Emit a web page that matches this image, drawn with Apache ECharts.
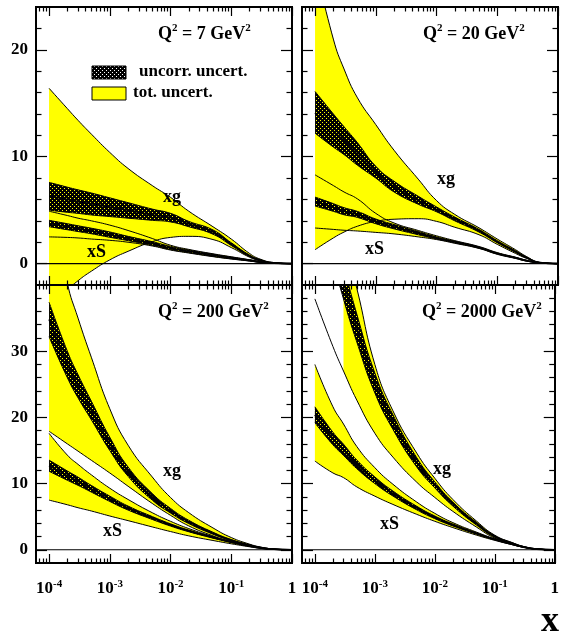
<!DOCTYPE html>
<html>
<head>
<meta charset="utf-8">
<script src="https://cdn.jsdelivr.net/npm/echarts@6/dist/echarts.min.js"></script>
<style>
  html, body { margin: 0; padding: 0; background: #fff; }
  #chart { width: 562px; height: 636px; }
</style>
</head>
<body>
<div id="chart"></div>
<script>
// x grid shared by every curve
const X = [1e-4, 2e-4, 3e-4, 5e-4, 1e-3, 2e-3, 5e-3, 1e-2, 2e-2, 5e-2, 0.1, 0.2, 0.3, 0.5, 1];

// Q2 = 7 GeV2
const q7_xg_hi  = [16.4, 14.5, 13.4, 12.1, 10.4, 8.9, 7.3, 6.2, 4.9, 3.45, 2.3, 0.95, 0.42, 0.1, 0];
const q7_xg_lo  = [-4.5, -2.5, -1.6, -0.7, 0.35, 1.15, 2.05, 2.45, 2.55, 2.25, 1.5, 0.6, 0.25, 0.05, 0];
const q7_xg_uhi = [7.6, 7.15, 6.9, 6.6, 6.15, 5.7, 5.1, 4.7, 3.95, 3.15, 1.95, 0.8, 0.36, 0.08, 0];
const q7_xg_ulo = [5.0, 4.8, 4.7, 4.55, 4.4, 4.25, 4.05, 3.9, 3.45, 2.75, 1.7, 0.65, 0.3, 0.06, 0];
const q7_xg_mid = [6.3, 6.0, 5.8, 5.6, 5.3, 5.0, 4.55, 4.3, 3.7, 2.95, 1.83, 0.72, 0.33, 0.07, 0];
const q7_xs_hi  = [4.9, 4.5, 4.25, 4.0, 3.6, 3.1, 2.35, 1.72, 1.33, 0.92, 0.64, 0.36, 0.19, 0.05, 0];
const q7_xs_lo  = [2.5, 2.45, 2.4, 2.3, 2.18, 2.0, 1.65, 1.27, 0.99, 0.65, 0.43, 0.24, 0.11, 0.03, 0];
const q7_xs_uhi = [4.05, 3.73, 3.54, 3.31, 2.96, 2.55, 2.05, 1.61, 1.27, 0.88, 0.61, 0.35, 0.18, 0.05, 0];
const q7_xs_ulo = [3.45, 3.17, 3.0, 2.79, 2.46, 2.15, 1.71, 1.31, 1.03, 0.68, 0.45, 0.25, 0.12, 0.03, 0];
const q7_xs_mid = [3.75, 3.45, 3.27, 3.05, 2.71, 2.35, 1.88, 1.46, 1.15, 0.78, 0.53, 0.3, 0.15, 0.04, 0];

// Q2 = 20 GeV2
const q20_xg_hi  = [28, 21, 18.2, 15.5, 13.0, 10.6, 7.9, 5.9, 4.6, 3.35, 2.3, 1.3, 0.68, 0.12, 0];
const q20_xg_lo  = [1.3, 2.4, 2.95, 3.5, 3.95, 4.15, 4.2, 3.95, 3.4, 2.7, 1.8, 0.95, 0.5, 0.08, 0];
const q20_xg_uhi = [16.1, 14.0, 12.8, 11.3, 9.1, 7.7, 6.3, 5.3, 4.35, 3.2, 2.15, 1.2, 0.62, 0.11, 0];
const q20_xg_ulo = [12.2, 10.9, 10.2, 9.2, 8.0, 6.7, 5.55, 4.85, 4.0, 2.95, 1.95, 1.05, 0.55, 0.09, 0];
const q20_xg_mid = [14.1, 12.4, 11.5, 10.2, 8.55, 7.2, 5.9, 5.07, 4.17, 3.07, 2.05, 1.12, 0.58, 0.1, 0];
const q20_xs_hi  = [8.3, 7.3, 6.7, 6.05, 4.7, 3.8, 3.1, 2.6, 2.15, 1.6, 1.03, 0.6, 0.32, 0.09, 0];
const q20_xs_lo  = [3.33, 3.2, 3.12, 3.05, 2.92, 2.78, 2.5, 2.25, 1.9, 1.42, 0.87, 0.48, 0.24, 0.07, 0];
const q20_xs_uhi = [6.22, 5.61, 5.23, 4.88, 4.17, 3.65, 3.0, 2.5, 2.1, 1.56, 1.0, 0.58, 0.31, 0.09, 0];
const q20_xs_ulo = [5.38, 4.89, 4.57, 4.32, 3.73, 3.25, 2.7, 2.3, 1.94, 1.44, 0.9, 0.5, 0.25, 0.07, 0];
const q20_xs_mid = [5.8, 5.25, 4.9, 4.6, 3.95, 3.45, 2.85, 2.4, 2.02, 1.5, 0.95, 0.54, 0.28, 0.08, 0];

// Q2 = 200 GeV2
const q200_xg_hi  = [55, 40.3, 35, 29, 21.3, 15.8, 11.0, 7.9, 5.6, 3.3, 1.85, 0.85, 0.42, 0.12, 0];
const q200_xg_lo  = [17.9, 16.0, 14.9, 13.5, 11.6, 9.6, 7.0, 5.2, 3.6, 2.1, 1.2, 0.58, 0.28, 0.06, 0];
const q200_xg_uhi = [37.4, 30.0, 26.45, 22.4, 17.0, 12.5, 8.5, 6.25, 4.45, 2.65, 1.55, 0.76, 0.39, 0.11, 0];
const q200_xg_ulo = [32.2, 26.0, 22.95, 19.6, 15.0, 11.1, 7.5, 5.55, 3.95, 2.35, 1.35, 0.64, 0.31, 0.07, 0];
const q200_xg_mid = [34.8, 28.0, 24.7, 21.0, 16.0, 11.8, 8.0, 5.9, 4.2, 2.5, 1.45, 0.7, 0.35, 0.09, 0];
const q200_xs_hi  = [17.6, 14.3, 12.9, 11.3, 9.3, 7.6, 5.6, 4.3, 3.2, 2.0, 1.25, 0.6, 0.31, 0.08, 0];
const q200_xs_lo  = [7.5, 6.8, 6.35, 5.85, 5.1, 4.4, 3.45, 2.75, 2.1, 1.4, 0.9, 0.45, 0.22, 0.05, 0];
const q200_xs_uhi = [13.55, 11.9, 10.97, 9.7, 8.1, 6.6, 5.02, 3.92, 2.98, 1.95, 1.22, 0.6, 0.31, 0.09, 0];
const q200_xs_ulo = [11.85, 10.5, 9.73, 8.7, 7.3, 6.0, 4.58, 3.58, 2.72, 1.75, 1.08, 0.5, 0.25, 0.05, 0];
const q200_xs_mid = [12.7, 11.2, 10.35, 9.2, 7.7, 6.3, 4.8, 3.75, 2.85, 1.85, 1.15, 0.55, 0.28, 0.07, 0];

// Q2 = 2000 GeV2
const q2000_xg_hi  = [70, 55, 47, 39.5, 28, 21, 14.6, 10.8, 7.6, 4.3, 2.2, 1.05, 0.5, 0.14, 0];
const q2000_xg_lo  = [37.9, 30.7, 27.0, 22.6, 17.6, 14.0, 10.2, 7.9, 5.8, 3.4, 1.75, 0.82, 0.4, 0.09, 0];
const q2000_xg_uhi = [66, 50, 43.1, 35.6, 26.7, 20.4, 13.9, 10.25, 7.2, 4.1, 2.12, 1.02, 0.49, 0.14, 0];
const q2000_xg_ulo = [58, 44, 37.9, 31.4, 23.7, 18.2, 12.5, 9.35, 6.6, 3.7, 1.88, 0.88, 0.41, 0.1, 0];
const q2000_xg_mid = [62, 47, 40.5, 33.5, 25.2, 19.3, 13.2, 9.8, 6.9, 3.9, 2.0, 0.95, 0.45, 0.12, 0];
const q2000_xs_hi  = [28.0, 21.6, 19.0, 15.6, 12.4, 9.9, 7.2, 5.5, 4.1, 2.65, 1.65, 0.85, 0.43, 0.11, 0];
const q2000_xs_lo  = [13.4, 11.6, 10.9, 9.5, 8.1, 6.85, 5.35, 4.3, 3.35, 2.2, 1.42, 0.74, 0.37, 0.09, 0];
const q2000_xs_uhi = [21.6, 17.75, 15.95, 13.55, 11.0, 8.88, 6.57, 5.1, 3.9, 2.55, 1.62, 0.84, 0.43, 0.11, 0];
const q2000_xs_ulo = [19.2, 15.85, 14.25, 12.25, 10.0, 8.12, 6.03, 4.7, 3.6, 2.35, 1.48, 0.76, 0.37, 0.09, 0];
const q2000_xs_mid = [20.4, 16.8, 15.1, 12.9, 10.5, 8.5, 6.3, 4.9, 3.75, 2.45, 1.55, 0.8, 0.4, 0.1, 0];

// y ranges and tick labels
const Y_TOP = [-2, 24];
const Y_BOTTOM = [-2, 40];
const Y_LABELS_TOP = [0, 10, 20];
const Y_LABELS_BOTTOM = [0, 10, 20, 30];
const X_DECADES = [-4, -3, -2, -1, 0];

const FONT = '"Liberation Serif", "Times New Roman", Times, serif';
const YELLOW = '#ffff00';
const LOG_MIN = -4.215;
const X_MIN = Math.pow(10, LOG_MIN);
const SMOOTH = 0.5;

// fine cross-hatch used for the uncorrelated uncertainty
function makeHatch() {
  const c = document.createElement('canvas');
  c.width = 4; c.height = 4;
  const g = c.getContext('2d');
  g.fillStyle = '#000';
  g.fillRect(0, 0, 4, 4);
  g.clearRect(0, 0, 1, 1);
  g.clearRect(2, 2, 1, 1);
  return c;
}
const HATCH = { image: makeHatch(), repeat: 'repeat' };

const PANELS = [
  { q: '7', y: Y_TOP, yl: Y_LABELS_TOP, box: { left: 36, top: 7 }, labelsX: false, labelsY: true, xgFrom: 0,
    xg: [q7_xg_hi, q7_xg_lo, q7_xg_uhi, q7_xg_ulo, q7_xg_mid], xs: [q7_xs_hi, q7_xs_lo, q7_xs_uhi, q7_xs_ulo, q7_xs_mid] },
  { q: '20', y: Y_TOP, yl: Y_LABELS_TOP, box: { left: 302, top: 7 }, labelsX: false, labelsY: false, xgFrom: 0,
    xg: [q20_xg_hi, q20_xg_lo, q20_xg_uhi, q20_xg_ulo, q20_xg_mid], xs: [q20_xs_hi, q20_xs_lo, q20_xs_uhi, q20_xs_ulo, q20_xs_mid] },
  { q: '200', y: Y_BOTTOM, yl: Y_LABELS_BOTTOM, box: { left: 36, top: 285 }, labelsX: true, labelsY: true, xgFrom: 0,
    xg: [q200_xg_hi, q200_xg_lo, q200_xg_uhi, q200_xg_ulo, q200_xg_mid], xs: [q200_xs_hi, q200_xs_lo, q200_xs_uhi, q200_xs_ulo, q200_xs_mid] },
  { q: '2000', y: Y_BOTTOM, yl: Y_LABELS_BOTTOM, box: { left: 302, top: 285 }, labelsX: true, labelsY: false, xgFrom: 2,
    xg: [q2000_xg_hi, q2000_xg_lo, q2000_xg_uhi, q2000_xg_ulo, q2000_xg_mid], xs: [q2000_xs_hi, q2000_xs_lo, q2000_xs_uhi, q2000_xs_ulo, q2000_xs_mid] }
];

// minor tick positions (log10 units) at 2..9 of each decade
const MINOR_X = [];
for (let d = -5; d < 0; d++) {
  for (let k = 2; k <= 9; k++) {
    const v = d + Math.log10(k);
    if (v > LOG_MIN && v < 0) MINOR_X.push(v);
  }
}

const grids = [], xAxes = [], yAxes = [], series = [];
const X_PER = 5, Y_PER = 4;

function xTickAxis(gi, pos, values, len, withLine, withLabels) {
  return {
    type: 'value', gridIndex: gi, position: pos, min: LOG_MIN, max: 0, z: 10,
    axisLine: { show: withLine, onZero: false, lineStyle: { color: '#000', width: 2, cap: 'square' } },
    axisTick: { show: true, inside: true, length: len, customValues: values, lineStyle: { color: '#000', width: 1.2 } },
    axisLabel: withLabels ? {
      show: true, customValues: X_DECADES, margin: 16,
      formatter: v => v === 0 ? '{b|1}' : '{b|10}{s|' + v + '}',
      rich: {
        b: { fontFamily: FONT, fontWeight: 'bold', fontSize: 17, color: '#000', lineHeight: 20 },
        s: { fontFamily: FONT, fontWeight: 'bold', fontSize: 11, color: '#000', lineHeight: 10, verticalAlign: 'top' }
      }
    } : { show: false },
    splitLine: { show: false }
  };
}

function yTickAxis(gi, pos, range, values, len, withLine, labels) {
  return {
    type: 'value', gridIndex: gi, position: pos, min: range[0], max: range[1], z: 10,
    axisLine: { show: withLine, onZero: false, lineStyle: { color: '#000', width: 2, cap: 'square' } },
    axisTick: { show: true, inside: true, length: len, customValues: values, lineStyle: { color: '#000', width: 1.2 } },
    axisLabel: labels ? {
      show: true, customValues: labels, margin: 8,
      fontFamily: FONT, fontWeight: 'bold', fontSize: 17, color: '#000'
    } : { show: false },
    splitLine: { show: false }
  };
}

// rows are [value, x] so that the stack is taken on the value dimension
function rows(arr, from) {
  return X.slice(from).map((x, i) => [arr[i + from], x]);
}

function band(gi, id, hi, lo, from, fill, z) {
  const base = { type: 'line', xAxisIndex: gi * X_PER, yAxisIndex: gi * Y_PER, stack: id, stackStrategy: 'all',
    encode: { x: 1, y: 0 }, smooth: SMOOTH, symbol: 'none', silent: true, z: z, lineStyle: { opacity: 0 } };
  return [
    Object.assign({}, base, { data: rows(lo, from) }),
    Object.assign({}, base, { data: X.slice(from).map((x, i) => [hi[i + from] - lo[i + from], x]),
      areaStyle: { color: fill, opacity: 1 } })
  ];
}

function curve(gi, arr, width) {
  return { type: 'line', xAxisIndex: gi * X_PER, yAxisIndex: gi * Y_PER, data: rows(arr, 0),
    encode: { x: 1, y: 0 }, smooth: SMOOTH, symbol: 'none', silent: true, z: 5,
    lineStyle: { color: '#000', width: width } };
}

PANELS.forEach((p, gi) => {
  grids.push({ left: p.box.left, top: p.box.top, width: 256, height: 278, show: false });

  // series axis (log x) followed by the tick axes drawn in log10 units
  xAxes.push({ type: 'log', logBase: 10, gridIndex: gi, min: X_MIN, max: 1, show: false });
  xAxes.push(xTickAxis(gi, 'bottom', X_DECADES, 9, true, p.labelsX));
  xAxes.push(xTickAxis(gi, 'bottom', MINOR_X, 4.5, false, false));
  xAxes.push(xTickAxis(gi, 'top', X_DECADES, 9, true, false));
  xAxes.push(xTickAxis(gi, 'top', MINOR_X, 4.5, false, false));

  const minorY = [];
  for (let v = p.y[0] + 2; v < p.y[1]; v += 2) if (v % 10 !== 0) minorY.push(v);
  const majorY = p.yl;
  yAxes.push(yTickAxis(gi, 'left', p.y, majorY, 11, true, p.labelsY ? p.yl : null));
  yAxes.push(yTickAxis(gi, 'left', p.y, minorY, 5.5, false, null));
  yAxes.push(yTickAxis(gi, 'right', p.y, majorY, 11, true, null));
  yAxes.push(yTickAxis(gi, 'right', p.y, minorY, 5.5, false, null));

  const [gh, gl, guh, gul, gm] = p.xg;
  const [sh, sl, suh, sul, sm] = p.xs;

  series.push(...band(gi, 'g' + gi + 'tot', gh, gl, p.xgFrom, YELLOW, 2));
  series.push(...band(gi, 's' + gi + 'tot', sh, sl, 0, YELLOW, 2));
  series.push(...band(gi, 'g' + gi + 'unc', guh, gul, 0, HATCH, 3));
  series.push(...band(gi, 's' + gi + 'unc', suh, sul, 0, HATCH, 3));

  // zero line
  series.push({ type: 'line', xAxisIndex: gi * X_PER, yAxisIndex: gi * Y_PER, data: [[X_MIN, 0], [1, 0]],
    symbol: 'none', silent: true, z: 5, lineStyle: { color: '#000', width: 1.2 } });

  [gh, gl, guh, gul, sh, sl, suh, sul].forEach(a => series.push(curve(gi, a, 1)));
  series.push(curve(gi, gm, 1.6));
  series.push(curve(gi, sm, 1.6));
});

// annotation texts
const RICH_Q = {
  q: { fontFamily: FONT, fontWeight: 'bold', fontSize: 18, fill: '#000', lineHeight: 22 },
  s: { fontFamily: FONT, fontWeight: 'bold', fontSize: 11, fill: '#000', lineHeight: 12, verticalAlign: 'top' }
};
function qLabel(x, y, q) {
  return { type: 'text', x: x, y: y, z: 20, silent: true,
    style: { text: '{q|Q}{s|2}{q| = ' + q + ' GeV}{s|2}', rich: RICH_Q, align: 'left', verticalAlign: 'middle' } };
}
function word(x, y, t, size) {
  return { type: 'text', x: x, y: y, z: 20, silent: true,
    style: { text: t, fontFamily: FONT, fontWeight: 'bold', fontSize: size, fill: '#000', align: 'left', verticalAlign: 'middle' } };
}

const graphic = [
  qLabel(158, 34, '7'), qLabel(423, 34, '20'), qLabel(158, 312, '200'), qLabel(422, 312, '2000'),
  word(163, 197, 'xg', 18), word(87, 252, 'xS', 18),
  word(437, 179, 'xg', 18), word(365, 249, 'xS', 18),
  word(163, 471, 'xg', 18), word(103, 531, 'xS', 18),
  word(433, 469, 'xg', 18), word(380, 524, 'xS', 18),
  // legend
  { type: 'rect', z: 20, silent: true, shape: { x: 92, y: 66, width: 34, height: 13 },
    style: { fill: HATCH, stroke: '#000', lineWidth: 1 } },
  word(139, 72, 'uncorr. uncert.', 17),
  { type: 'rect', z: 20, silent: true, shape: { x: 92, y: 87, width: 34, height: 13 },
    style: { fill: YELLOW, stroke: '#000', lineWidth: 1 } },
  word(133, 93, 'tot. uncert.', 17),
  { type: 'text', x: 559, y: 622, z: 20, silent: true,
    style: { text: 'x', fontFamily: FONT, fontWeight: 'bold', fontSize: 36, fill: '#000', align: 'right', verticalAlign: 'middle' } }
];

const chart = echarts.init(document.getElementById('chart'), null, { renderer: 'canvas', width: 562, height: 636 });
chart.setOption({
  animation: false,
  backgroundColor: '#fff',
  grid: grids,
  xAxis: xAxes,
  yAxis: yAxes,
  series: series,
  graphic: graphic
});
</script>
</body>
</html>
